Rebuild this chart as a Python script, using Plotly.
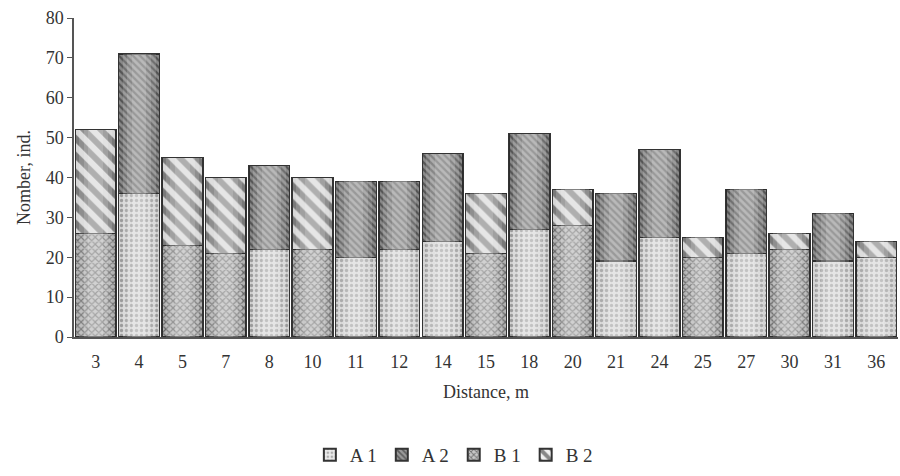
import plotly.graph_objects as go

categories = ["3", "4", "5", "7", "8", "10", "11", "12", "14", "15",
              "18", "20", "21", "24", "25", "27", "30", "31", "36"]
a1 = [0, 36, 0, 0, 22, 0, 20, 22, 24, 0, 27, 0, 19, 25, 0, 21, 0, 19, 20]
a2 = [0, 35, 0, 0, 21, 0, 19, 17, 22, 0, 24, 0, 17, 22, 0, 16, 0, 12, 0]
b1 = [26, 0, 23, 21, 0, 22, 0, 0, 0, 21, 0, 28, 0, 0, 20, 0, 22, 0, 0]
b2 = [26, 0, 22, 19, 0, 18, 0, 0, 0, 15, 0, 9, 0, 0, 5, 0, 4, 0, 4]
y_ticks = [0, 10, 20, 30, 40, 50, 60, 70, 80]

FONT = "Liberation Serif, Times New Roman, serif"
edge = dict(color="#333333", width=1.5)

styles = {
    "A 1": dict(shape=".", fgcolor="#6e6e6e", bgcolor="#ececec", size=5, solidity=0.35),
    "A 2": dict(shape="\\", fgcolor="#222222", bgcolor="#9a9a9a", size=5, solidity=0.45),
    "B 1": dict(shape="x", fgcolor="#1e1e1e", bgcolor="#c8c8c8", size=5, solidity=0.42),
    "B 2": dict(shape="\\", fgcolor="#1e1e1e", bgcolor="#f0f0f0", size=12, solidity=0.5),
}
series = [("A 1", a1), ("A 2", a2), ("B 1", b1), ("B 2", b2)]

fig = go.Figure()
for name, vals in series:
    fig.add_trace(go.Bar(
        x=categories, y=vals, name=name,
        marker=dict(color=styles[name]["bgcolor"], line=edge, pattern=styles[name]),
    ))

# cylinder-like shading: darker rim, translucent light layers over the centre
totals = [p + q + r + s for p, q, r, s in zip(a1, a2, b1, b2)]
shade_layers = [(0.92, "rgba(0,0,0,0.10)"),
                (0.76, "rgba(255,255,255,0.16)"),
                (0.56, "rgba(255,255,255,0.16)"),
                (0.34, "rgba(255,255,255,0.16)")]
for i, (w, col) in enumerate(shade_layers):
    ax = "x%d" % (i + 2)
    fig.add_trace(go.Bar(
        x=categories, y=totals, width=w, xaxis=ax, yaxis="y",
        marker=dict(color=col, line=dict(width=0)),
        showlegend=False, hoverinfo="skip",
    ))
    fig.update_layout(**{
        "xaxis%d" % (i + 2): dict(type="category", overlaying="x", matches="x",
                                  visible=False, categoryorder="array",
                                  categoryarray=categories)
    })

fig.update_layout(
    barmode="stack",
    bargap=0.06,
    width=900, height=476,
    margin=dict(l=74, r=2, t=18, b=126),
    paper_bgcolor="white", plot_bgcolor="white",
    font=dict(family=FONT, size=18, color="#333333"),
    showlegend=True,
    legend=dict(orientation="h", x=0.461, xanchor="center", y=-0.31, yanchor="top",
                font=dict(family=FONT, size=19, color="#333333"),
                traceorder="normal", itemwidth=30, itemsizing="constant"),
    xaxis=dict(
        type="category", categoryorder="array", categoryarray=categories,
        title=dict(text="Distance, m", font=dict(family=FONT, size=18), standoff=14),
        showline=True, linecolor="#555555", linewidth=1.5,
        ticks="outside", ticklen=8, tickcolor="rgba(0,0,0,0)",
        tickfont=dict(family=FONT, size=18),
        showgrid=False,
    ),
    yaxis=dict(
        range=[0, 80], tickvals=y_ticks,
        title=dict(text="Nomber, ind.", font=dict(family=FONT, size=18), standoff=10),
        showline=True, linecolor="#555555", linewidth=1.5,
        ticks="outside", ticklen=5, tickcolor="#555555",
        tickfont=dict(family=FONT, size=18),
        showgrid=False, zeroline=False,
    ),
)

fig.write_html(
    "out.html",
    config={"displayModeBar": False},
    post_script="document.body.style.margin='0';document.body.style.overflow='hidden';",
)
